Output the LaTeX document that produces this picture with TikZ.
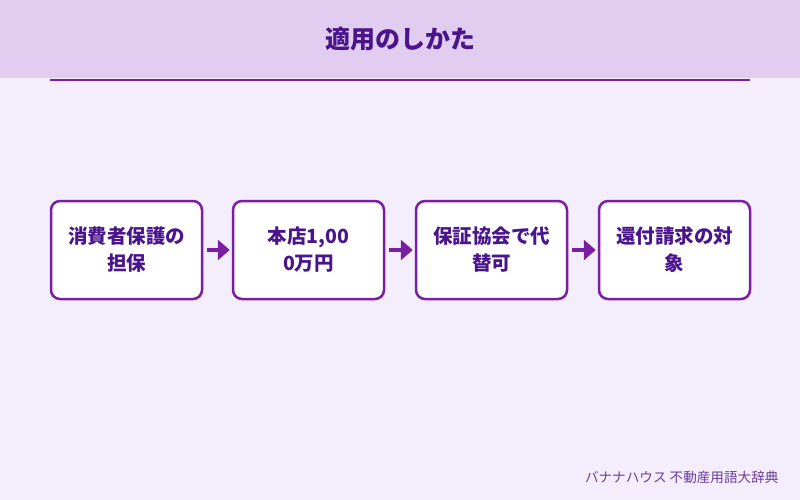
\documentclass[tikz,border=0pt]{standalone}
\usepackage{fontspec}
\setmainfont{Noto Sans CJK JP}
\usetikzlibrary{arrows.meta}
\definecolor{bgc}{HTML}{F4EDFC}
\definecolor{hdr}{HTML}{E2CDF0}
\definecolor{pur}{HTML}{7B1FA2}
\definecolor{dpur}{HTML}{4A148C}
\definecolor{ftc}{HTML}{6A3D9A}
\tikzset{
  stepbox/.style={draw=pur, line width=2.5pt, fill=white, rounded corners=9pt,
    minimum width=151pt, minimum height=98pt, align=center, text=dpur,
    font=\bfseries\fontsize{19.5}{27}\selectfont, inner sep=0pt},
  flow/.style={draw=pur, line width=4pt, -{Triangle[length=12pt,width=20pt]}, shorten <=4pt, shorten >=2pt}
}
\begin{document}
\begin{tikzpicture}[x=1pt,y=-1pt]
\useasboundingbox (0,0) rectangle (800,500);
\fill[bgc] (0,0) rectangle (800,500);
\fill[hdr] (0,0) rectangle (800,78);
\node[text=dpur, font=\bfseries\fontsize{25}{30}\selectfont] (title) at (400,39) {適用のしかた};
\coordinate (l1) at (50,80.5);
\coordinate (l2) at (750,80.5);
\draw[pur, line width=2pt] (l1) -- (l2);
\node[stepbox] (b1) at (126.5,250) {消費者保護の\\担保};
\node[stepbox] (b2) at (308.5,250) {本店1,00\\0万円};
\node[stepbox] (b3) at (491.5,250) {保証協会で代\\替可};
\node[stepbox] (b4) at (674.5,250) {還付請求の対\\象};
\draw[flow] (b1) -- (b2);
\draw[flow] (b2) -- (b3);
\draw[flow] (b3) -- (b4);
\node[anchor=east, text=ftc, font=\fontsize{13.6}{16}\selectfont] (foot) at (782,477) {バナナハウス 不動産用語大辞典};
\end{tikzpicture}
\end{document}
